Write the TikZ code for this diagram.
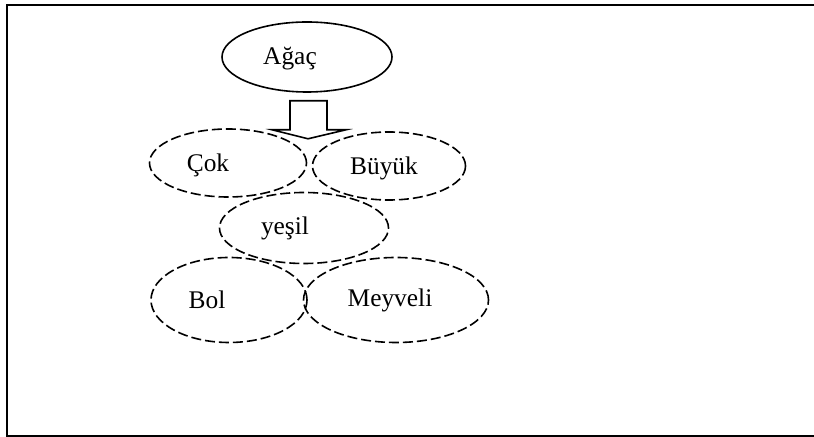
\documentclass[tikz,border=0pt]{standalone}
\usepackage{fontspec}
\setmainfont{Liberation Serif}
\usepackage{tikz}
\usetikzlibrary{shapes.geometric}

\begin{document}
\begin{tikzpicture}[x=0.5pt,y=-0.5pt,line width=0.8pt,font=\fontsize{12.7}{15}\selectfont,
        word/.style={ellipse,draw,inner sep=0pt,dash pattern=on 5pt off 2pt}]
        \useasboundingbox (0,0) rectangle (814,437);
        \draw[line width=1pt] (814,5) -- (7,5) -- (7,436) -- (814,436);
        \node[ellipse,draw,inner sep=0pt,minimum width=85pt,minimum height=35pt,
              label={[xshift=-8.5pt,yshift=-1pt]center:Ağaç}] (a) at (307,57) {};
        \tikzset{word/.append style={minimum height=34pt}}
        \node[word,minimum width=78.5pt,label={[xshift=-10pt,yshift=-1pt]center:Çok}] (c) at (228,163) {};
        \node[word,minimum width=76.5pt,label={[xshift=-2.5pt,yshift=-1pt]center:Büyük}] (b) at (389,166) {};
        \node[word,minimum width=84.5pt,minimum height=35.5pt,label={[xshift=-9.5pt]center:yeşil}] (y) at (304,228) {};
        \tikzset{word/.append style={minimum height=42.5pt}}
        \node[word,minimum width=78pt,label={[xshift=-11pt]center:Bol}] (o) at (229,300) {};
        \node[word,minimum width=92.5pt,label={[xshift=-3pt]center:Meyveli}] (m) at (396,300) {};
        % block arrow under the top node
        \draw (a.south) ++(-17,8) -- ++(37,0) -- ++(0,29) -- ++(19,0) -- ++(-38,9)
              -- ++(-36,-9) -- ++(18,0) -- cycle;
\end{tikzpicture}
\end{document}
